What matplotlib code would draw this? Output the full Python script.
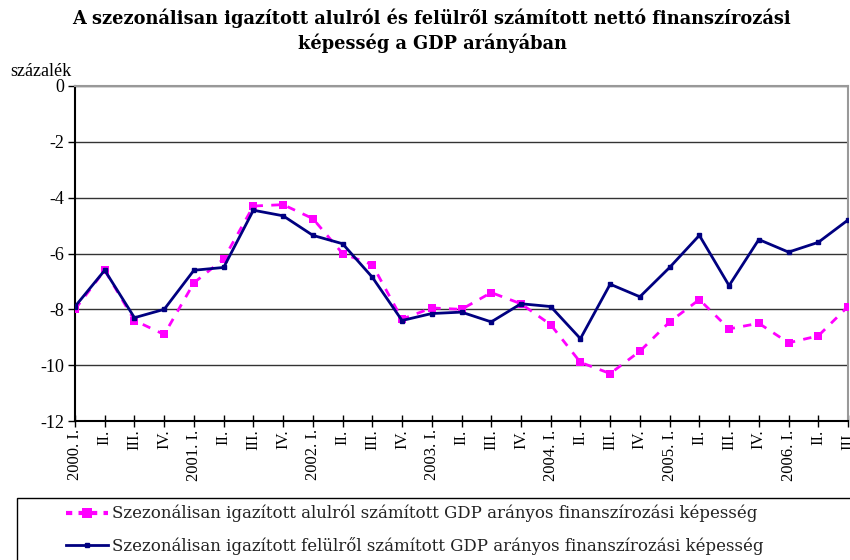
import matplotlib
matplotlib.use("Agg")
import matplotlib.pyplot as plt
from matplotlib.lines import Line2D
from matplotlib.patches import Rectangle

plt.rcParams['font.family'] = ['Liberation Serif', 'DejaVu Serif']

categories = ["2000. I.", "II.", "III.", "IV.",
              "2001. I.", "II.", "III.", "IV.",
              "2002. I.", "II.", "III.", "IV.",
              "2003. I.", "II.", "III.", "IV.",
              "2004. I.", "II.", "III.", "IV.",
              "2005. I.", "II.", "III.", "IV.",
              "2006. I.", "II.", "III."]

alulrol = [-8.0, -6.6, -8.4, -8.9, -7.05, -6.2, -4.3, -4.25, -4.75, -6.0, -6.4, -8.35,
           -7.95, -8.0, -7.4, -7.8, -8.55, -9.9, -10.3, -9.5, -8.45, -7.65, -8.7, -8.5,
           -9.2, -8.95, -7.9]
felulrol = [-7.9, -6.6, -8.3, -8.0, -6.6, -6.5, -4.45, -4.65, -5.35, -5.65, -6.85, -8.4,
            -8.15, -8.1, -8.45, -7.8, -7.9, -9.05, -7.1, -7.55, -6.5, -5.35, -7.15, -5.5,
            -5.95, -5.6, -4.8]

label_alul = "Szezonálisan igazított alulról számított GDP arányos finanszírozási képesség"
label_felul = "Szezonálisan igazított felülről számított GDP arányos finanszírozási képesség"
title = "A szezonálisan igazított alulról és felülről számított nettó finanszírozási\nképesség a GDP arányában"

W, H = 850, 560
fig = plt.figure(figsize=(8.5, 5.6), dpi=100)
ax = fig.add_axes([75/W, 1-421/H, (848-75)/W, (421-86)/H])

x = list(range(len(categories)))
ax.plot(x, alulrol, color='#FF00FF', linestyle=(0, (3, 3)), linewidth=2,
        marker='s', markersize=6, markeredgewidth=0, zorder=3)
ax.plot(x, felulrol, color='#000080', linestyle='-', linewidth=2,
        marker='s', markersize=3, zorder=4)

ax.set_xlim(0, len(categories) - 1)
ax.set_ylim(-12, 0)
ax.set_yticks(range(-12, 1, 2))
ax.set_yticklabels([str(v) for v in range(-12, 1, 2)], fontsize=13)
ax.set_xticks(x)
ax.set_xticklabels(categories, rotation=90, fontsize=12)
ax.tick_params(axis='x', direction='inout', length=8, width=1, pad=2)
ax.tick_params(axis='y', direction='out', length=5, width=1, pad=3)

ax.grid(axis='y', color='#333333', linewidth=1)
ax.set_axisbelow(True)
for s in ['top', 'right']:
    ax.spines[s].set_color('#999999')
    ax.spines[s].set_linewidth(1.5)
for s in ['left', 'bottom']:
    ax.spines[s].set_color('black')
    ax.spines[s].set_linewidth(1.5)

fig.text(10/W, 1-71/H, "százalék", fontsize=13, ha='left', va='center')
fig.text(432/W, 1-31/H, title, fontsize=12.8, fontweight='bold', ha='center',
         va='center', linespacing=1.35, family=['DejaVu Serif'])

# legend frame
fig.add_artist(Rectangle((17/W, -0.01), (W + 10 - 17)/W, (562-498)/H + 0.01 - 2/H,
                         transform=fig.transFigure, fill=False, edgecolor='black',
                         linewidth=1))

handles = [Line2D([], [], color='#FF00FF', linestyle=(0, (1.5, 1.5)), linewidth=3,
                  marker='s', markersize=7, markeredgewidth=0),
           Line2D([], [], color='#000080', linestyle='-', linewidth=2,
                  marker='s', markersize=3)]
leg = fig.legend(handles, [label_alul, label_felul], loc='upper left',
                 bbox_to_anchor=(66/W, 1-505/H), frameon=False,
                 prop={'family': ['DejaVu Serif'], 'size': 12},
                 handlelength=2.5, handletextpad=0.25, borderpad=0, borderaxespad=0,
                 labelspacing=0.85)
for t in leg.get_texts():
    t.set_color('#222222')

fig.savefig("out.png", dpi=100)
